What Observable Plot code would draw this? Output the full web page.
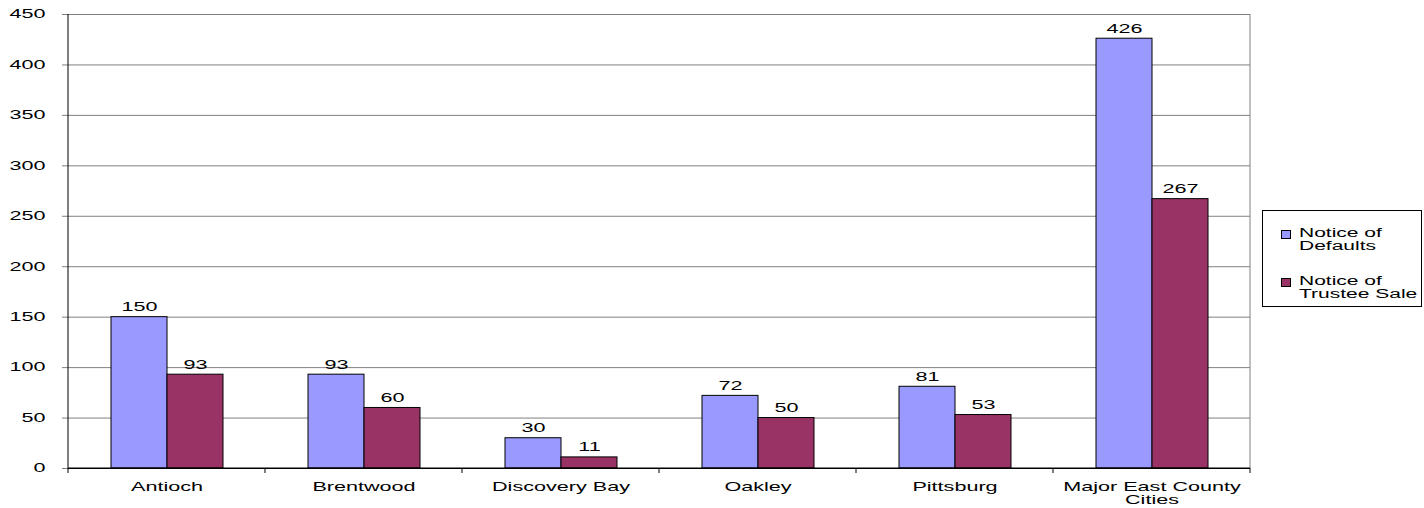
<!DOCTYPE html>
<html>
<head>
<meta charset="utf-8">
<script src="https://cdn.jsdelivr.net/npm/d3@7"></script>
<script src="https://cdn.jsdelivr.net/npm/@observablehq/plot@0.6"></script>
<style>
  html, body { margin: 0; padding: 0; background: #fff; }
  #wrap { position: relative; width: 1424px; height: 508px; font-family: "Liberation Sans", Arial, sans-serif; }
  #legend { position: absolute; left: 1262px; top: 210px; width: 160px; height: 97px; border: 1px solid #000; box-sizing: border-box; background: #fff; }
  #legend .item { position: absolute; left: 0; }
  #legend .swatch { position: absolute; left: 18px; top: 3px; width: 8px; height: 7px; border: 1px solid #000; }
  #legend .label { position: absolute; left: 36px; top: 0; font-size: 12px; line-height: 13px; white-space: nowrap; transform: scaleX(1.75); transform-origin: left center; color: #000; }
</style>
</head>
<body>
<div id="wrap"></div>
<script>
// Foreclosure notices by East County city
const categories = ["Antioch", "Brentwood", "Discovery Bay", "Oakley", "Pittsburg", "Major East County Cities"];
const categoryLabels = ["Antioch", "Brentwood", "Discovery Bay", "Oakley", "Pittsburg", "Major East County\nCities"];
const series = ["Notice of Defaults", "Notice of Trustee Sale"];
const seriesLabels = ["Notice of\nDefaults", "Notice of\nTrustee Sale"];
const seriesColors = ["#9999FF", "#993366"];
const noticeOfDefaults = [150, 93, 30, 72, 81, 426];
const noticeOfTrusteeSale = [93, 60, 11, 50, 53, 267];
const yTicks = [0, 50, 100, 150, 200, 250, 300, 350, 400, 450];

const rows = categories.flatMap((c, i) => [
  {category: c, series: series[0], value: noticeOfDefaults[i]},
  {category: c, series: series[1], value: noticeOfTrusteeSale[i]}
]);

const TEXT_STRETCH = 1.8;

const chart = Plot.plot({
  width: 1424,
  height: 508,
  marginLeft: 68,
  marginRight: 174,
  marginTop: 14,
  marginBottom: 40,
  style: {fontFamily: "'Liberation Sans', Arial, sans-serif", fontSize: "12px", color: "#000", background: "#fff"},
  fx: {domain: categories, padding: 0, label: null},
  x: {domain: series, paddingInner: 0, paddingOuter: 0.743, axis: null},
  y: {domain: [0, 450], label: null},
  color: {domain: series, range: seriesColors},
  marks: [
    Plot.gridY(yTicks, {stroke: "#808080", strokeOpacity: 1}),
    Plot.ruleY([0], {stroke: "#000"}),
    Plot.axisY(yTicks, {tickSize: 6, tickPadding: 17, stroke: "#808080", fill: "#000", label: null}),
    Plot.axisFx({
      anchor: "bottom",
      tickSize: 0,
      tickPadding: 14,
      lineHeight: 1.05,
      label: null,
      fill: "#000",
      tickFormat: (d) => categoryLabels[categories.indexOf(d)]
    }),
    Plot.barY(rows, {fx: "category", x: "series", y: "value", fill: "series", stroke: "#000", strokeWidth: 1, inset: 0}),
    Plot.text(rows, {fx: "category", x: "series", y: "value", text: "value", lineAnchor: "bottom", dy: -6, fill: "#000"})
  ]
});

document.getElementById("wrap").appendChild(chart);

// Plot-area edges and category boundary ticks, placed from the fx and y scales
const fx = chart.scale("fx");
const y = chart.scale("y");
const y0 = y.apply(0);
const yTop = y.apply(450);
const xLeft = fx.apply(categories[0]);
const xRight = fx.apply(categories[categories.length - 1]) + fx.bandwidth;
const edges = categories.map((c) => fx.apply(c)).concat([xRight]);
const frame = d3.select(chart).append("g").attr("fill", "none");
frame.append("line")
  .attr("x1", xRight).attr("x2", xRight).attr("y1", yTop).attr("y2", y0)
  .attr("stroke", "#808080");
frame.append("line")
  .attr("x1", xLeft).attr("x2", xLeft).attr("y1", yTop).attr("y2", y0)
  .attr("stroke", "#000");
frame.append("line")
  .attr("x1", xLeft).attr("x2", xRight).attr("y1", y0).attr("y2", y0)
  .attr("stroke", "#000");
frame.append("g")
  .attr("stroke", "#000")
  .selectAll("line")
  .data(edges)
  .join("line")
  .attr("x1", (d) => d).attr("x2", (d) => d)
  .attr("y1", y0).attr("y2", y0 + 5);

// Wide, horizontally stretched lettering, scaled about each label's anchor
d3.select(chart).selectAll("text").each(function () {
  const t = this.getAttribute("transform") || "";
  const x = +this.getAttribute("x") || 0;
  this.removeAttribute("x");
  this.setAttribute("transform", `${t} translate(${x},0) scale(${TEXT_STRETCH},1)`);
});

// Legend
const legend = d3.select("#wrap").append("div").attr("id", "legend");
const items = legend.selectAll(".item").data(series).join("div")
  .attr("class", "item")
  .style("top", (d, i) => `${16 + i * 48}px`);
items.append("div").attr("class", "swatch").style("background", (d, i) => seriesColors[i]);
items.append("div").attr("class", "label").html((d, i) => seriesLabels[i].replace("\n", "<br>"));
</script>
</body>
</html>
